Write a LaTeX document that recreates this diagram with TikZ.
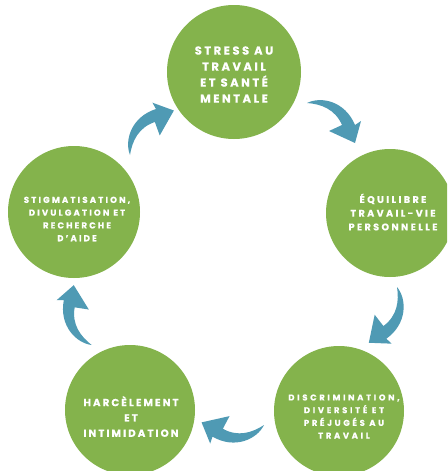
\documentclass[tikz,border=0pt]{standalone}
\usepackage{fontspec}
\newfontfamily\lblA[LetterSpace=22,FakeBold=0.6]{Poppins Bold}
\newfontfamily\lblB[LetterSpace=25,FakeBold=0.6]{Poppins Bold}
\newfontfamily\lblC[LetterSpace=32,FakeBold=0.6]{Poppins Bold}
\newfontfamily\lblD[LetterSpace=20,FakeBold=0.6]{Poppins Bold}
\newfontfamily\lblE[LetterSpace=25,FakeBold=0.6]{Poppins Bold}
\definecolor{cgreen}{RGB}{132,179,76}
\definecolor{cteal}{RGB}{79,154,180}
\tikzset{
  bubble/.style={circle, fill=cgreen, draw=none, minimum size=#1, inner sep=0pt},
  lbl/.style={text=white, align=center, inner sep=0pt, font=#1},
  cyclearrow/.pic={
    \fill[cteal] (0,0) .. controls (14,-7) and (38,-2) .. (48,22)
      -- (54,18) -- (48,40) -- (22,28) -- (35,22)
      .. controls (28,6) and (14,1) .. (0,0) -- cycle;
  }
}
\begin{document}
\begin{tikzpicture}[x=1pt,y=-1pt]
\useasboundingbox (0,0) rectangle (447,471);
\clip (0,0) rectangle (447,471);
\fill[white] (0,0) rectangle (447,471);
% circles
\node[bubble=134pt] (c1) at (234,72) {};
\node[bubble=128pt] (c2) at (390,213) {};
\node[bubble=130pt] (c3) at (339,411) {};
\node[bubble=130pt] (c4) at (130,410) {};
\node[bubble=132pt] (c5) at (74,212) {};
% labels
\node[lbl={\lblA\fontsize{11.5}{16}\selectfont}] (t1) at (234,74.5) {STRESS AU\\TRAVAIL\\ET SANTÉ\\MENTALE};
\node[lbl={\lblB\fontsize{9.6}{13.7}\selectfont}] (t2) at (393,212) {ÉQUILIBRE\\TRAVAIL-VIE\\PERSONNELLE};
\node[lbl={\lblC\fontsize{8.4}{12.7}\selectfont}] (t3) at (344,416.5) {DISCRIMINATION,\\DIVERSITÉ ET\\PRÉJUGÉS AU\\TRAVAIL};
\node[lbl={\lblD\fontsize{10.3}{15.3}\selectfont}] (t4) at (131,416.5) {HARCÈLEMENT\\ET\\INTIMIDATION};
\node[lbl={\lblE\fontsize{8.6}{12.8}\selectfont}] (t5) at (77,219) {STIGMATISATION,\\DIVULGATION ET\\RECHERCHE\\D’AIDE};
% arrows
\pic at (307,103) {cyclearrow};
\pic[rotate=-77] at (397,287) {cyclearrow};
\pic[rotate=-142.6] at (264,425) {cyclearrow};
\pic[rotate=-213.5] at (91.7,345) {cyclearrow};
\pic[rotate=-274.8] at (130,155) {cyclearrow};
\end{tikzpicture}
\end{document}
